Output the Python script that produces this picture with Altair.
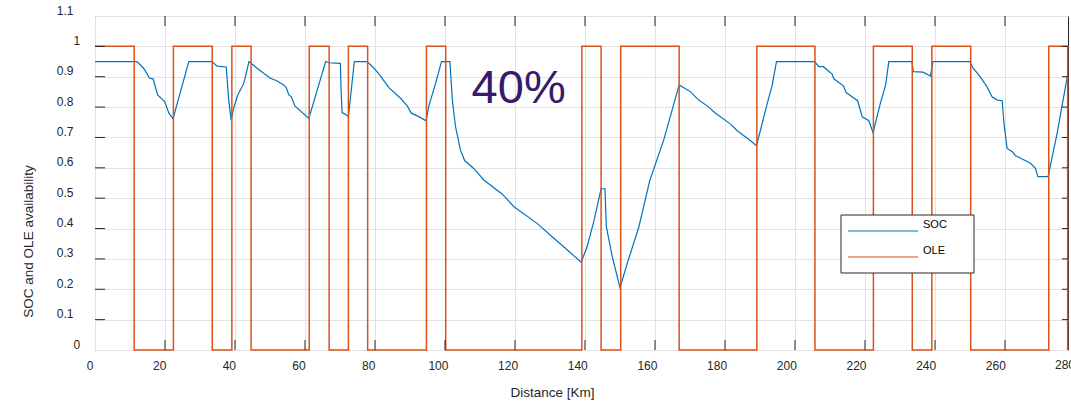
import altair as alt
import pandas as pd

# ---------------- data ----------------
soc_km = [0, 12.0, 13.9, 15.6, 16.6, 17.9, 19.9, 20.6, 21.1, 22.3, 26.8, 33.4, 34.9, 37.5, 38.2, 38.9,
          39.7, 40.8, 42.5, 44.0, 46.3, 50.1, 51.9, 53.9, 54.6, 55.4, 56.1, 57.1, 61.1, 65.9, 66.8,
          70.1, 70.3, 70.6, 72.1, 72.4, 74.1, 77.8, 79.7, 81.6, 83.9, 87.3, 89.2, 90.4, 92.1, 94.6,
          95.4, 97.3, 99.0, 101.4, 102.1, 103.0, 104.4, 105.6, 108.2, 111.1, 116.3, 119.7, 126.3,
          131.1, 134.4, 138.9, 140.6, 142.5, 144.6, 145.7, 146.1, 147.8, 150.0, 152.1, 155.4, 158.5,
          162.5, 166.9, 170.1, 172.5, 174.9, 177.3, 181.6, 183.5, 187.3, 189.0, 192.1, 193.5, 194.7,
          205.6, 206.8, 208.1, 210.6, 211.1, 213.8, 214.6, 216.3, 217.9, 219.2, 221.1, 222.3, 224.4,
          225.9, 226.8, 233.4, 233.8, 236.6, 238.7, 239.4, 249.9, 250.9, 252.5, 254.7, 256.3, 257.8,
          259.2, 259.7, 260.6, 262.1, 263.0, 267.3, 268.7, 269.4, 272.3, 274.9, 277.8]
soc_val = [0.95, 0.95, 0.928, 0.895, 0.893, 0.840, 0.818, 0.796, 0.780, 0.762, 0.95, 0.95, 0.935, 0.932,
           0.823, 0.758, 0.80, 0.84, 0.878, 0.95, 0.928, 0.895, 0.887, 0.873, 0.865, 0.840, 0.834, 0.804,
           0.763, 0.95, 0.946, 0.944, 0.86, 0.782, 0.772, 0.768, 0.95, 0.95, 0.928, 0.902, 0.865, 0.829,
           0.804, 0.78, 0.771, 0.755, 0.804, 0.878, 0.95, 0.95, 0.823, 0.736, 0.659, 0.624, 0.598, 0.560,
           0.514, 0.472, 0.417, 0.368, 0.335, 0.289, 0.340, 0.423, 0.531, 0.531, 0.406, 0.307, 0.205,
           0.286, 0.406, 0.558, 0.692, 0.873, 0.851, 0.823, 0.804, 0.780, 0.744, 0.722, 0.689, 0.673,
           0.813, 0.873, 0.95, 0.95, 0.933, 0.933, 0.909, 0.893, 0.870, 0.848, 0.834, 0.821, 0.768, 0.755,
           0.716, 0.813, 0.873, 0.95, 0.95, 0.917, 0.915, 0.902, 0.95, 0.95, 0.928, 0.906, 0.870, 0.834,
           0.823, 0.821, 0.747, 0.664, 0.653, 0.640, 0.615, 0.598, 0.571, 0.571, 0.714, 0.90]

ole_km = [0, 11.2, 22.4, 33.5, 39.1, 44.6, 61.2, 66.9, 72.4, 77.9, 94.7, 100.2, 139.1, 144.6, 150.2,
          166.9, 189.1, 205.7, 222.4, 233.5, 239.1, 250.2, 272.5, 277.9]
ole_val = [1, 0, 1, 0, 1, 0, 1, 0, 1, 0, 1, 0, 1, 0, 1, 0, 1, 0, 1, 0, 1, 0, 1, 0]

x_ticks = [0, 20, 40, 60, 80, 100, 120, 140, 160, 180, 200, 220, 240, 260]
x_extra_label = [280]
y_ticks = [0, 0.1, 0.2, 0.3, 0.4, 0.5, 0.6, 0.7, 0.8, 0.9, 1.0, 1.1]
series = ["SOC", "OLE"]
series_colors = ["#0072BD", "#D95319"]
annotation_text = ["40%"]
annotation_km = [107.6]
annotation_val = [0.813]

# ---------------- tables ----------------
soc_df = pd.DataFrame({"Distance": soc_km, "Value": soc_val})
ole_df = pd.DataFrame({"Distance": ole_km, "Value": ole_val})
xt_df = pd.DataFrame({"Distance": x_ticks[1:]})
yt_df = pd.DataFrame({"Value": y_ticks[1:-1]})
x280_df = pd.DataFrame({"Distance": x_extra_label, "label": [str(v) for v in x_extra_label]})
ann_df = pd.DataFrame({"Distance": annotation_km, "Value": annotation_val, "t": annotation_text})
leg_df = pd.DataFrame({"s": series})

W, H = 973, 334
FONT = "Liberation Sans"
INK = "#262626"

xscale = alt.Scale(domain=[0, 278], nice=False, zero=False)
yscale = alt.Scale(domain=[0, 1.1], nice=False, zero=False)

xaxis = alt.Axis(
    values=x_ticks, grid=True, gridColor="#e3e3e3", gridWidth=1,
    domain=False, ticks=False, labelPadding=10, labelFontSize=12, labelFont=FONT,
    labelColor=INK, labelOffset=alt.ExprRef(expr="-5.5 - datum.value * 0.016"),
    title="Distance [Km]", titleFont=FONT, titleFontSize=13.5, titleFontWeight="normal",
    titleColor=INK, titleX=457, titleY=42, titleAlign="center", titleBaseline="middle",
    labelFlush=False, labelOverlap=False,
)
yaxis = alt.Axis(
    values=y_ticks, grid=True, gridColor="#e3e3e3", gridWidth=1, format=".1~f",
    domain=False, ticks=False, labelPadding=22, labelFontSize=12, labelFont=FONT,
    labelColor=INK, labelOffset=-6,
    labelAlign={"condition": {"test": "datum.value == 0 || datum.value == 1", "value": "left"},
                "value": "right"},
    title="SOC and OLE availability", titleFont=FONT, titleFontSize=13.5,
    titleFontWeight="normal", titleColor=INK, titleX=-67, titleY=225,
    titleAngle=270, titleAlign="center", titleBaseline="middle",
    labelFlush=False, labelOverlap=False,
)


def X(field="Distance"):
    return alt.X(f"{field}:Q", scale=xscale, axis=xaxis)


def Y(field="Value"):
    return alt.Y(f"{field}:Q", scale=yscale, axis=yaxis)


soc_line = alt.Chart(soc_df).mark_line(color=series_colors[0], strokeWidth=1.2).encode(
    x=X(), y=Y(), order="Distance:Q")
ole_line = alt.Chart(ole_df).mark_line(color=series_colors[1], strokeWidth=1.5,
                                        interpolate="step-after").encode(x=X(), y=Y())

tick_top = alt.Chart(xt_df).mark_rule(color=INK, strokeWidth=1).encode(
    x=X(), y=alt.value(0), y2=alt.value(10))
tick_bot = alt.Chart(xt_df).mark_rule(color=INK, strokeWidth=1).encode(
    x=X(), y=alt.value(H), y2=alt.value(H - 10))
tick_left = alt.Chart(yt_df).mark_rule(color=INK, strokeWidth=1).encode(
    y=Y(), x=alt.value(0), x2=alt.value(10))
tick_right = alt.Chart(yt_df).mark_rule(color=INK, strokeWidth=1).encode(
    y=Y(), x=alt.value(W), x2=alt.value(W - 6))

label280 = alt.Chart(x280_df).mark_text(font=FONT, fontSize=12, color=INK, baseline="top",
                                        align="center", dx=-10).encode(
    x=X(), y=alt.value(H + 10), text="label:N")

ann = alt.Chart(ann_df).mark_text(font=FONT, fontSize=47, color="#371a6b", align="left",
                                  baseline="alphabetic").encode(x=X(), y=Y(), text="t:N")

# legend box (MATLAB style)
lx0, lx1, ly0, ly1 = 746, 879, 199, 257
leg_box = alt.Chart(leg_df.head(1)).mark_rect(fill="white", stroke=INK, strokeWidth=1).encode(
    x=alt.value(lx0), x2=alt.value(lx1), y=alt.value(ly0), y2=alt.value(ly1))
leg_items = []
for i, (name, col) in enumerate(zip(series, series_colors)):
    d = leg_df[leg_df.s == name]
    yy = 215 + 26 * i
    leg_items.append(alt.Chart(d).mark_rule(color=col, strokeWidth=1.2).encode(
        x=alt.value(753), x2=alt.value(823), y=alt.value(yy)))
    leg_items.append(alt.Chart(d).mark_text(font=FONT, fontSize=11, color="#000000",
                                            align="left", baseline="middle").encode(
        x=alt.value(828), y=alt.value(yy - 6), text="s:N"))

chart = alt.layer(
    soc_line, ole_line, tick_top, tick_bot, tick_left, tick_right, label280, ann,
    leg_box, *leg_items
).properties(
    width=W, height=H, autosize=alt.AutoSizeParams(type="none"),
    padding={"left": 95, "top": 16, "right": 3, "bottom": 55},
    background="white",
).configure_view(stroke=INK, strokeWidth=1)

chart.save("out.html", embed_options={"renderer": "svg", "actions": False})
